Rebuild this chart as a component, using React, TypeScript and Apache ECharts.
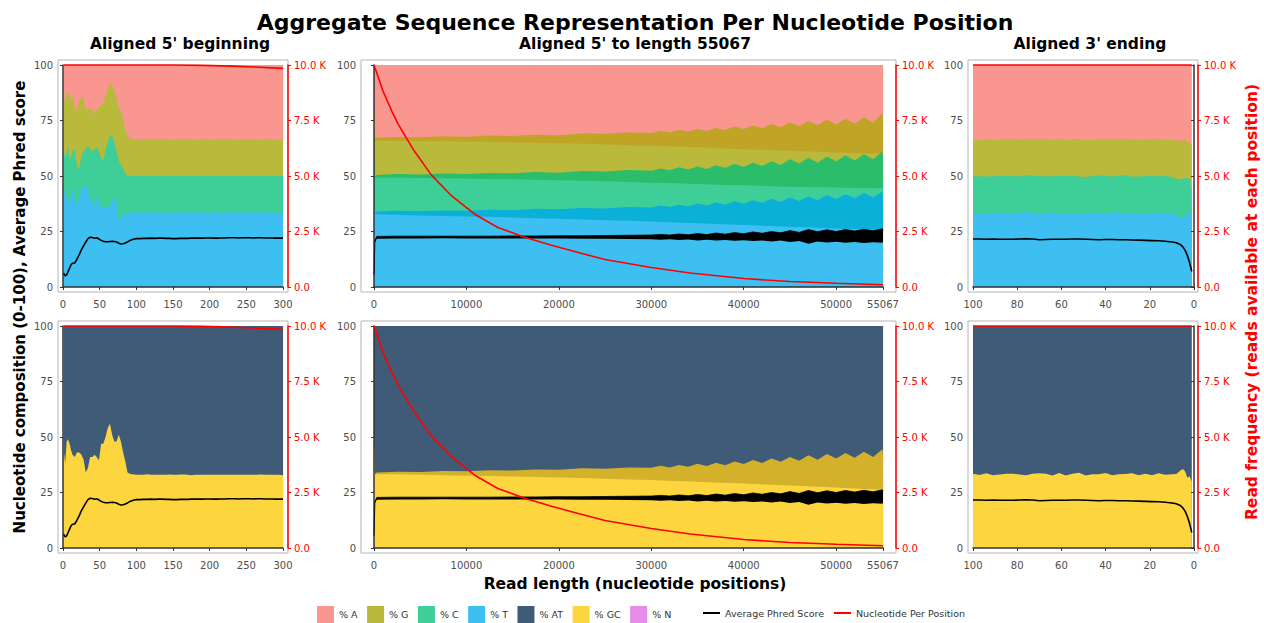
import React, { useEffect, useRef } from "react";
import * as echarts from "echarts";

// ---------------- DATA ----------------
// Aligned 5' beginning (positions 1..300): per-nucleotide composition (%), Phred, reads
const BEGIN_POS = [1, 3, 5, 7, 9, 11, 13, 16, 19, 22, 25, 28, 31, 34, 37, 40, 43, 46, 49, 52, 55, 58, 61, 64, 67, 70, 73, 76, 79, 82, 85, 88, 91, 94, 97, 100,
  105, 110, 115, 120, 125, 130, 135, 140, 145, 150, 155, 160, 165, 170, 175, 180, 185, 190, 195, 200,
  205, 210, 215, 220, 225, 230, 235, 240, 245, 250, 255, 260, 265, 270, 275, 280, 285, 290, 295, 300];
const BEGIN_T = [38, 48, 40, 38, 39, 40, 45, 40, 37, 40, 44, 45, 46, 44, 40, 39, 36, 39, 41.5, 35, 36, 36, 35, 36, 40, 40, 37, 30, 31, 33, 32, 34, 33.5, 33.5, 33.4, 33.6,
  33.4, 33.8, 33.2, 33.6, 33.9, 33.3, 33.5, 33.7, 33.1, 33.6, 33.4, 33.8, 33.2, 33.5, 33.9, 33.3, 33.6, 33.4, 33.7, 33.2,
  33.5, 33.8, 33.3, 33.6, 33.4, 33.9, 33.2, 33.5, 33.7, 33.3, 33.6, 33.4, 33.8, 33.1, 33.5, 33.7, 33.3, 33.6, 33.4, 33.5];
const BEGIN_C = [24, 10, 20, 26, 18, 19, 16, 22, 18, 13, 15, 16, 16, 20, 22, 22, 26, 24, 19.5, 23, 21, 26, 30, 32, 28, 25, 24, 27, 24, 20, 19, 16, 16.5, 16.5, 16.4, 16.5,
  16.6, 16.2, 16.9, 16.4, 16.1, 16.8, 16.5, 16.3, 17.0, 16.4, 16.6, 16.2, 16.9, 16.5, 16.0, 16.7, 16.4, 16.6, 16.3, 16.8,
  16.5, 16.2, 16.7, 16.4, 16.6, 16.1, 16.9, 16.5, 16.3, 16.7, 16.4, 16.6, 16.2, 16.9, 16.5, 16.3, 16.7, 16.4, 16.6, 16.5];
const BEGIN_G = [20, 28, 28, 23, 29, 25, 26, 19, 25, 30, 27, 24, 18, 16, 19, 19, 16, 17, 20, 24, 26, 24, 24, 24, 23, 23, 24, 24, 24, 23, 20, 18, 17, 16.7, 16.7, 16.5,
  16.4, 16.8, 16.3, 16.6, 16.9, 16.2, 16.5, 16.7, 16.1, 16.6, 16.4, 16.9, 16.2, 16.5, 16.8, 16.3, 16.6, 16.4, 16.7, 16.2,
  16.5, 16.8, 16.3, 16.6, 16.4, 16.9, 16.1, 16.5, 16.7, 16.3, 16.6, 16.4, 16.8, 16.2, 16.5, 16.7, 16.3, 16.6, 16.4, 16.3];
const BEGIN_PHRED = [6.2, 5.0, 5.5, 7.0, 8.5, 10.0, 10.7, 10.8, 12.5, 14.5, 16.7, 18.5, 20.2, 21.8, 22.4, 22.3, 22.0, 22.2, 21.6, 21.0, 20.6, 20.4, 20.4, 20.5, 20.6, 20.5, 20.3, 19.7, 19.4, 19.5, 19.8, 20.3, 20.9, 21.3, 21.6, 21.8,
  21.8, 21.9, 21.9, 22.0, 21.9, 22.0, 22.0, 21.9, 21.9, 21.8, 21.8, 21.9, 21.9, 21.9, 22.0, 22.0, 22.0, 22.0, 22.1, 22.1,
  22.0, 22.0, 22.1, 22.1, 22.2, 22.2, 22.2, 22.1, 22.2, 22.2, 22.2, 22.1, 22.2, 22.2, 22.1, 22.1, 22.1, 22.0, 22.1, 22.0];
const BEGIN_READS_POS = [1, 150, 190, 230, 260, 300];
const BEGIN_READS = [10000, 10000, 9985, 9950, 9910, 9850];

// Aligned 5' to length 55067: composition levels (upper edge of the jitter band and of the calm part)
const SPIKE_X = [1, 100, 300, 2500, 5000, 7500, 10000, 12500, 15000, 17500, 20000, 22500, 25000, 27500, 30000,
  31000, 32000, 33000, 34000, 35000, 36000, 37000, 38000, 39000, 40000, 41000, 42000, 43000, 44000, 45000,
  46000, 47000, 48000, 49000, 50000, 51000, 52000, 53000, 54000, 55000, 55067];
const MID_X = [1, 100, 300, 2500, 5000, 7500, 10000, 12500, 15000, 17500, 20000, 22500, 25000, 27500, 30000,
  32500, 35000, 37500, 40000, 42500, 45000, 47500, 50000, 52500, 55067];
const MID_TCG_JITTER = [85, 67, 67.3, 67.6, 67.4, 67.9, 67.7, 68.2, 68.0, 68.6, 68.4, 69.1, 69.0, 69.6, 69.4,
  70.4, 69.6, 70.8, 70.0, 71.2, 70.3, 71.6, 70.7, 72.3, 71.2, 72.8, 71.5, 73.4, 72.0, 74.2,
  72.4, 74.8, 72.9, 75.5, 73.2, 75.8, 73.6, 76.4, 74.0, 78.5, 74.5];
const MID_TCG = [84, 66, 65.8, 65.9, 65.7, 65.6, 65.4, 65.3, 65.1, 64.9, 64.7, 64.5, 64.2, 63.9, 63.6,
  63.3, 62.9, 62.5, 62.1, 61.7, 61.3, 61.0, 60.6, 60.3, 60.0];
const MID_TC_JITTER = [60, 50, 50.5, 50.9, 50.7, 51.1, 50.9, 51.4, 51.2, 51.8, 51.5, 52.2, 52.0, 52.7, 52.4,
  53.4, 52.6, 53.9, 52.9, 54.3, 53.2, 54.8, 53.6, 55.4, 54.0, 56.0, 54.5, 56.7, 55.0, 57.5,
  55.6, 58.2, 56.0, 58.8, 56.5, 59.3, 57.0, 59.8, 57.5, 61.0, 58.5];
const MID_TC = [59, 49, 49.2, 49.2, 49.1, 49.0, 48.9, 48.7, 48.5, 48.3, 48.1, 47.9, 47.6, 47.3, 47.0,
  46.7, 46.4, 46.1, 45.8, 45.5, 45.2, 45.0, 44.8, 44.6, 44.5];
const MID_T_JITTER = [40, 33.5, 34, 34.3, 34.1, 34.5, 34.3, 34.8, 34.6, 35.2, 35.0, 35.6, 35.4, 36.0, 35.8,
  36.7, 36.0, 37.1, 36.3, 37.6, 36.7, 38.1, 37.1, 38.6, 37.5, 39.1, 37.9, 39.7, 38.3, 40.3,
  38.7, 40.8, 39.1, 41.4, 39.5, 41.8, 40.0, 42.3, 40.4, 43.0, 41.0];
const MID_T = [38, 33, 32.8, 32.4, 32.2, 32.0, 31.8, 31.6, 31.3, 31.0, 30.7, 30.4, 30.1, 29.8, 29.5,
  29.1, 28.7, 28.3, 27.9, 27.5, 27.1, 26.8, 26.4, 26.0, 25.7];
const MID_GC_JITTER = [50, 33.5, 34.0, 34.4, 34.2, 34.7, 34.6, 35.0, 34.9, 35.4, 35.3, 35.9, 35.7, 36.3, 36.1,
  37.0, 36.3, 37.4, 36.6, 37.9, 36.9, 38.4, 37.3, 39.0, 37.8, 39.6, 38.3, 40.3, 38.8, 41.0,
  39.3, 41.8, 39.8, 42.3, 40.3, 42.8, 40.6, 43.3, 41.0, 44.5, 42.0];
const MID_GC = [49, 33, 33.2, 33.2, 33.0, 32.8, 32.6, 32.4, 32.2, 32.0, 31.8, 31.5, 31.2, 30.9, 30.6,
  30.2, 29.8, 29.4, 29.0, 28.6, 28.2, 27.7, 27.2, 26.7, 26.2];
const MID_PHRED_LOW = [5, 20, 21.7, 21.9, 21.9, 22.0, 21.9, 21.9, 21.9, 21.8, 21.8, 21.7, 21.7, 21.6, 21.5,
  21.3, 21.5, 21.2, 21.4, 21.0, 21.3, 20.9, 21.2, 20.8, 21.1, 20.7, 21.0, 20.5, 20.9, 20.3,
  20.7, 19.5, 20.5, 20.0, 20.4, 19.9, 20.3, 19.8, 20.2, 19.9, 20.5];
const MID_PHRED_HIGH = [5.5, 21, 22.8, 22.9, 22.9, 22.9, 22.9, 22.9, 23.0, 23.0, 23.1, 23.1, 23.2, 23.3, 23.4,
  23.7, 23.4, 23.9, 23.5, 24.1, 23.6, 24.3, 23.8, 24.5, 24.0, 24.8, 24.2, 25.0, 24.4, 25.4,
  24.6, 25.9, 24.9, 25.8, 25.0, 25.9, 25.2, 26.0, 25.3, 26.2, 25.5];
const MID_READS_POS = [1, 1000, 2000, 2600, 3300, 4400, 6200, 8400, 10900, 13400, 16300, 19200, 22100, 25000, 30000, 34200, 40000, 45000, 50000, 55067];
const MID_READS = [10000, 8800, 7850, 7350, 6850, 6100, 5050, 4100, 3280, 2680, 2240, 1880, 1550, 1240, 880, 630, 380, 250, 170, 100];

// Aligned 3' ending (positions from the end, 100..1)
const END_POS = [100, 97, 94, 91, 88, 85, 82, 79, 76, 73, 70, 67, 64, 61, 58, 55, 52, 49, 46, 43, 40, 37, 34, 31, 28, 25, 22, 19, 16, 13, 10, 8, 6, 5, 4, 3, 2, 1];
const END_T = [33.0, 33.4, 32.8, 33.6, 33.1, 33.5, 32.9, 33.4, 33.8, 33.2, 32.7, 33.3, 33.6, 33.0, 33.5, 33.2, 32.8, 33.4, 33.1, 33.6, 33.0, 33.4, 33.7, 33.2, 32.9, 33.5, 33.1, 33.6, 33.0, 33.4,
  33.2, 32.6, 31.0, 30.4, 32.0, 33.5, 33.0, 34.0];
const END_C = [16.8, 16.5, 17.0, 16.3, 16.9, 16.6, 17.1, 16.4, 16.5, 16.9, 17.2, 16.6, 16.3, 17.1, 16.5, 16.8, 17.0, 16.2, 16.9, 16.6, 17.0, 16.4, 16.5, 17.1, 16.8, 16.3, 16.9, 16.5, 16.9, 16.6,
  16.3, 16.0, 17.4, 18.6, 17.0, 15.5, 16.0, 10.0];
const END_G = [16.6, 16.4, 16.7, 16.5, 16.2, 16.8, 16.4, 16.7, 16.3, 16.6, 16.5, 16.8, 16.4, 16.7, 16.2, 16.6, 16.9, 16.5, 16.3, 16.6, 16.8, 16.4, 16.7, 16.2, 16.9, 16.5, 16.6, 16.3, 16.8, 16.4,
  16.9, 17.3, 17.6, 17.0, 17.5, 16.3, 16.2, 20.0];
const END_PHRED = [21.6, 21.6, 21.5, 21.6, 21.5, 21.5, 21.5, 21.6, 21.7, 21.6, 21.3, 21.4, 21.5, 21.5, 21.5, 21.6, 21.6, 21.5, 21.4, 21.3, 21.4, 21.4, 21.3, 21.3, 21.2, 21.1, 21.0, 20.9, 20.8, 20.6,
  20.3, 19.9, 19.0, 18.0, 16.5, 14.2, 11.0, 7.0];
const END_READS_POS = [100, 1];
const END_READS = [10000, 10000];

const X_MAX = [300, 55067, 100];
const X_INTERVAL = [50, 10000, 20];
const PCT_TICKS = { min: 0, max: 100, interval: 25 };
const READ_TICKS = { min: 0, max: 10000, interval: 2500 };

const TITLE = "Aggregate Sequence Representation Per Nucleotide Position";
const PANEL_TITLES = ["Aligned 5' beginning", "Aligned 5' to length 55067", "Aligned 3' ending"];
const LEGEND_AREAS = ["% A", "% G", "% C", "% T", "% AT", "% GC", "% N"];
const LEGEND_LINES = ["Average Phred Score", "Nucleotide Per Position"];

// ---------------- STYLE ----------------
const FONT = "DejaVu Sans";
const COL = {
  A: "#F8968F", G: "#B9B93C", C: "#3ECE98", T: "#3EBFF2", AT: "#405B78", GC: "#FDD63F", N: "#E88CEB",
  Gd: "#C0A426", Cd: "#2BBD6A", Td: "#0BB0D8", GCd: "#D4B12B",
};
const ROW_TOP = [65, 326];
const PLOT_H = 222;
const COLS = [
  { left: 63, width: 220, padL: 5, padR: 5 },
  { left: 374, width: 509, padL: 13, padR: 13 },
  { left: 973, width: 221, padL: 5, padR: 4 },
];

const pairs = (xs: number[], ys: number[]) => xs.map((x, i) => [x, ys[i]]);
const sum = (...arrs: number[][]) => arrs[0].map((_, i) => arrs.reduce((s, a) => s + a[i], 0));
const full = (xs: number[]) => xs.map(() => 100);

function area(name: string, color: string, xs: number[], ys: number[], gi: number, edge = 0) {
  return {
    type: "line", name, xAxisIndex: gi, yAxisIndex: gi * 2, data: pairs(xs, ys),
    symbol: "none", showSymbol: false, silent: true,
    lineStyle: { width: edge, color }, itemStyle: { color }, areaStyle: { color, opacity: 1 },
  };
}
function line(name: string, color: string, xs: number[], ys: number[], gi: number, right: boolean) {
  return {
    type: "line", name, xAxisIndex: gi, yAxisIndex: gi * 2 + (right ? 1 : 0), data: pairs(xs, ys),
    symbol: "none", showSymbol: false, silent: true, clip: false,
    lineStyle: { width: 1.6, color }, itemStyle: { color },
  };
}
// spread of the average Phred score: black up to the high edge, then the underlying colour back up to the low edge
function phredSpread(xs: number[], lo: number[], hi: number[], gi: number, under: string, underName: string) {
  return [
    area("Phred spread", "#000", xs, hi, gi, 0.8),
    area(underName, under, xs, lo, gi, 0),
  ];
}

function buildOption() {
  const grids: any[] = [];
  const xAxes: any[] = [];
  const yAxes: any[] = [];
  const graphics: any[] = [];
  const labelStyle = { fontFamily: FONT, fontSize: 10, color: "#4d4d4d" };
  for (let r = 0; r < 2; r++) {
    for (let c = 0; c < 3; c++) {
      const gi = r * 3 + c;
      const col = COLS[c];
      grids.push({ left: col.left, top: ROW_TOP[r], width: col.width, height: PLOT_H });
      graphics.push({
        type: "rect", z: 1, silent: true,
        shape: { x: col.left - col.padL, y: ROW_TOP[r] - 5, width: col.width + col.padL + col.padR, height: PLOT_H + 10 },
        style: { fill: "none", stroke: "#b5b5b5", lineWidth: 1 },
      });
      xAxes.push({
        type: "value", gridIndex: gi, min: 0, max: X_MAX[c], interval: X_INTERVAL[c], inverse: c === 2,
        position: "bottom", offset: 5, z: 3,
        axisLine: { show: true, lineStyle: { color: "#333", width: 1.5 } },
        axisTick: { show: true, length: 3, lineStyle: { color: "#333" } },
        axisLabel: { ...labelStyle, margin: 7, showMaxLabel: true, showMinLabel: true, formatter: (v: number) => String(v) },
        splitLine: { show: true, lineStyle: { color: "rgba(0,0,0,0.06)", width: 1 } },
      });
      yAxes.push({
        type: "value", gridIndex: gi, ...PCT_TICKS, position: "left", offset: col.padL, z: 3,
        axisLine: { show: true, lineStyle: { color: "#333", width: 1.5 } },
        axisTick: { show: true, length: 3, lineStyle: { color: "#333" } },
        axisLabel: { ...labelStyle, margin: 5 },
        splitLine: { show: true, lineStyle: { color: "rgba(0,0,0,0.06)", width: 1 } },
      });
      yAxes.push({
        type: "value", gridIndex: gi, ...READ_TICKS, position: "right", offset: col.padR, z: 3,
        axisLine: { show: true, lineStyle: { color: "#ff0000", width: 1.5 } },
        axisTick: { show: true, length: 3, lineStyle: { color: "#ff0000" } },
        axisLabel: {
          fontFamily: FONT, fontSize: 10, color: "#ff0000", margin: 6,
          formatter: (v: number) => (v === 0 ? "0.0" : (v / 1000).toFixed(1) + " K"),
        },
        splitLine: { show: false },
      });
    }
  }

  const series: any[] = [];
  // top-left
  series.push(area("% A", COL.A, BEGIN_POS, full(BEGIN_POS), 0));
  series.push(area("% G", COL.G, BEGIN_POS, sum(BEGIN_T, BEGIN_C, BEGIN_G), 0));
  series.push(area("% C", COL.C, BEGIN_POS, sum(BEGIN_T, BEGIN_C), 0));
  series.push(area("% T", COL.T, BEGIN_POS, BEGIN_T, 0));
  series.push(line("Average Phred Score", "#000", BEGIN_POS, BEGIN_PHRED, 0, false));
  series.push(line("Nucleotide Per Position", "#ff0000", BEGIN_READS_POS, BEGIN_READS, 0, true));
  // top-middle
  series.push(area("% A", COL.A, [1, 55067], [100, 100], 1));
  series.push(area("G spread", COL.Gd, SPIKE_X, MID_TCG_JITTER, 1));
  series.push(area("% G", COL.G, MID_X, MID_TCG, 1));
  series.push(area("C spread", COL.Cd, SPIKE_X, MID_TC_JITTER, 1));
  series.push(area("% C", COL.C, MID_X, MID_TC, 1));
  series.push(area("T spread", COL.Td, SPIKE_X, MID_T_JITTER, 1));
  series.push(area("% T", COL.T, MID_X, MID_T, 1));
  series.push(...phredSpread(SPIKE_X, MID_PHRED_LOW, MID_PHRED_HIGH, 1, COL.T, "% T"));
  series.push(line("Nucleotide Per Position", "#ff0000", MID_READS_POS, MID_READS, 1, true));
  // top-right
  series.push(area("% A", COL.A, END_POS, full(END_POS), 2));
  series.push(area("% G", COL.G, END_POS, sum(END_T, END_C, END_G), 2));
  series.push(area("% C", COL.C, END_POS, sum(END_T, END_C), 2));
  series.push(area("% T", COL.T, END_POS, END_T, 2));
  series.push(line("Average Phred Score", "#000", END_POS, END_PHRED, 2, false));
  series.push(line("Nucleotide Per Position", "#ff0000", END_READS_POS, END_READS, 2, true));
  // bottom-left
  series.push(area("% AT", COL.AT, BEGIN_POS, full(BEGIN_POS), 3));
  series.push(area("% GC", COL.GC, BEGIN_POS, sum(BEGIN_C, BEGIN_G), 3));
  series.push(line("Average Phred Score", "#000", BEGIN_POS, BEGIN_PHRED, 3, false));
  series.push(line("Nucleotide Per Position", "#ff0000", BEGIN_READS_POS, BEGIN_READS, 3, true));
  // bottom-middle
  series.push(area("% AT", COL.AT, [1, 55067], [100, 100], 4));
  series.push(area("GC spread", COL.GCd, SPIKE_X, MID_GC_JITTER, 4));
  series.push(area("% GC", COL.GC, MID_X, MID_GC, 4));
  series.push(...phredSpread(SPIKE_X, MID_PHRED_LOW, MID_PHRED_HIGH, 4, COL.GC, "% GC"));
  series.push(line("Nucleotide Per Position", "#ff0000", MID_READS_POS, MID_READS, 4, true));
  // bottom-right
  series.push(area("% AT", COL.AT, END_POS, full(END_POS), 5));
  series.push(area("% GC", COL.GC, END_POS, sum(END_C, END_G), 5));
  series.push(line("Average Phred Score", "#000", END_POS, END_PHRED, 5, false));
  series.push(line("Nucleotide Per Position", "#ff0000", END_READS_POS, END_READS, 5, true));
  // % N (no N bases observed)
  series.push(area("% N", COL.N, [], [], 0));

  const text = (t: string, x: number, y: number, size: number, color = "#000", rotation = 0) => ({
    type: "text", x, y, rotation, z: 10, silent: true,
    style: { text: t, fill: color, font: `bold ${size}px "${FONT}"`, textAlign: "center", textVerticalAlign: "middle" },
  });
  graphics.push(text(TITLE, 635, 22, 22));
  graphics.push(text(PANEL_TITLES[0], 180, 44, 15.5));
  graphics.push(text(PANEL_TITLES[1], 635, 44, 15.5));
  graphics.push(text(PANEL_TITLES[2], 1090, 44, 15.5));
  graphics.push(text("Nucleotide composition (0-100), Average Phred score", 20, 307, 15, "#000", Math.PI / 2));
  graphics.push(text("Read frequency (reads available at each position)", 1252, 302, 15.5, "#ff0000", Math.PI / 2));
  graphics.push(text("Read length (nucleotide positions)", 635, 584, 15.5));

  const legendText = { fontFamily: FONT, fontSize: 9.5, color: "#333" };
  return {
    animation: false,
    backgroundColor: "#fff",
    grid: grids,
    xAxis: xAxes,
    yAxis: yAxes,
    series,
    graphic: graphics,
    legend: [
      {
        left: 317, top: 606, padding: 0, itemWidth: 17, itemHeight: 17, itemGap: 9.5, icon: "rect",
        selectedMode: false, data: LEGEND_AREAS, textStyle: legendText,
      },
      {
        left: 703, top: 608, padding: 0, itemWidth: 17, itemHeight: 2, itemGap: 10, icon: "rect",
        selectedMode: false, data: LEGEND_LINES, textStyle: legendText,
      },
    ],
  };
}

export default function App() {
  const ref = useRef<HTMLDivElement>(null);
  useEffect(() => {
    const chart = echarts.init(ref.current!, undefined, { renderer: "svg", width: 1264, height: 623 });
    chart.setOption(buildOption() as any);
    return () => chart.dispose();
  }, []);
  return <div ref={ref} style={{ position: "fixed", left: 0, top: 0, width: 1264, height: 623, background: "#fff" }} />;
}
